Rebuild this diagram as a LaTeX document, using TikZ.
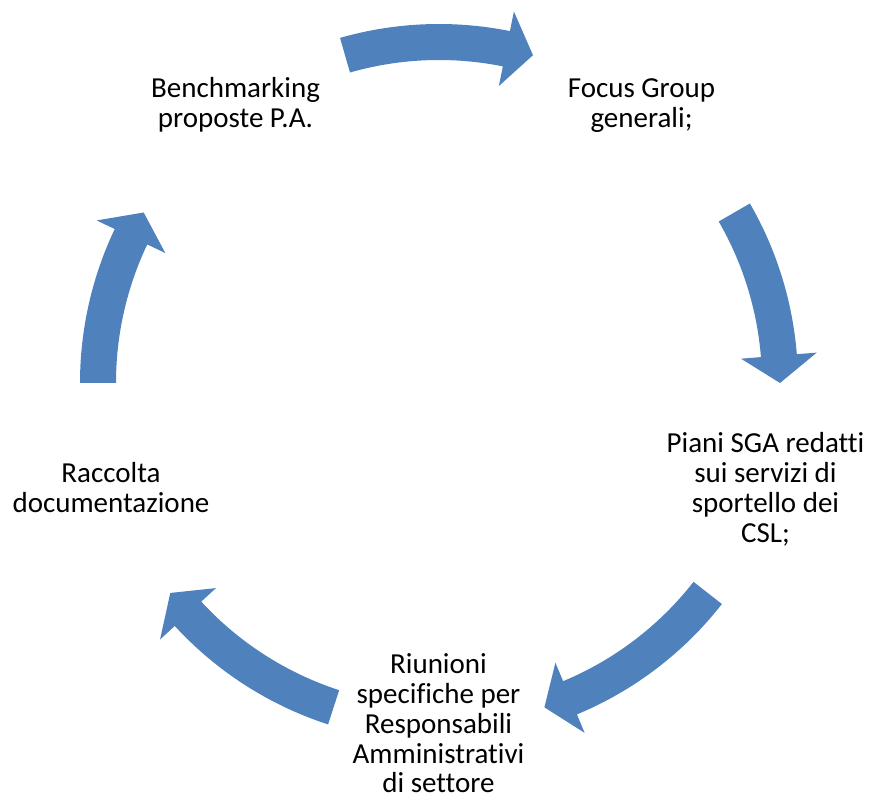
\documentclass[tikz,border=0pt]{standalone}
\usepackage{fontspec}
\setmainfont{Carlito}[Ligatures={NoCommon}]
\definecolor{cycleblue}{RGB}{79,129,189}
\tikzset{
  steptext/.style={align=center, inner sep=0pt, anchor=base, font=\fontsize{29}{30}\selectfont},
  cyclearrow/.style={fill=cycleblue, draw=none}
}
% block arc arrow from tail angle #1 to tip angle #2 (clockwise)
\newcommand{\arcarrow}[2]{%
  \pgfmathsetmacro{\headang}{#2+4.6}%
  \fill[cyclearrow] (#1:323) arc[start angle=#1, end angle=\headang, radius=323]
    -- (\headang:303) -- (#2:341) -- (\headang:379) -- (\headang:359)
    arc[start angle=\headang, end angle=#1, radius=359] -- cycle;%
}
\begin{document}
\begin{tikzpicture}[x=1pt, y=1pt]
\useasboundingbox (0,0) rectangle (871,804);
% text nodes, anchored at the baseline of their last line
\node[steptext] (bench) at (235.5,676) {Benchmarking\\proposte P.A.};
\node[steptext] (focus) at (641.5,676) {Focus Group\\generali;};
\node[steptext] (piani) at (765.5,261) {Piani SGA redatti\\sui servizi di\\sportello dei\\CSL;};
\node[steptext] (riun) at (438.5,11) {Riunioni\\specifiche per\\Responsabili\\Amministrativi\\di settore};
\node[steptext] (racc) at (111,291) {Raccolta\\documentazione};
% arrows round the cycle
\begin{scope}[shift={(439,421)}]
\arcarrow{106}{74}
\arcarrow{30}{0}
\arcarrow{-38}{-72}
\arcarrow{-108}{-142}
\arcarrow{180}{150}
\end{scope}
\end{tikzpicture}
\end{document}
